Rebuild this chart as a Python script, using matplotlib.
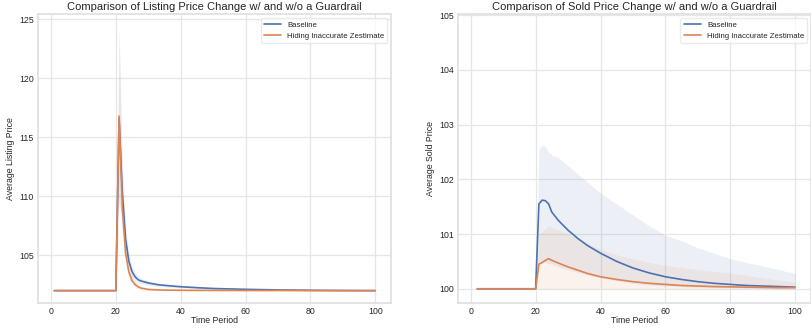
import numpy as np
import matplotlib.pyplot as plt
import seaborn as sns

sns.set_theme(style='whitegrid')
plt.rcParams['font.family'] = ['Liberation Sans', 'DejaVu Sans']

# listing price, averaged over runs (mean and 95% band)
t_list = [1, 20, 21, 22, 23, 24, 25, 26, 27, 28, 30, 33, 36, 40, 45, 50, 60, 70, 80, 90, 100]
list_base = [102.0, 102.0, 116.6, 110.3, 106.4, 104.5, 103.6, 103.15, 102.9, 102.8, 102.65, 102.5,
             102.42, 102.33, 102.25, 102.18, 102.11, 102.06, 102.03, 102.01, 102.0]
list_base_hi = [102.0, 102.0, 124.3, 113.0, 107.5, 105.2, 104.1, 103.5, 103.2, 103.05, 102.85, 102.65,
                102.55, 102.45, 102.35, 102.27, 102.18, 102.11, 102.06, 102.03, 102.01]
list_base_lo = [102.0, 102.0, 109.5, 108.0, 105.4, 103.9, 103.1, 102.8, 102.6, 102.55, 102.45, 102.35,
                102.3, 102.22, 102.16, 102.1, 102.05, 102.02, 102.0, 101.99, 101.99]
list_hide = [102.0, 102.0, 116.8, 109.0, 105.2, 103.6, 102.85, 102.5, 102.3, 102.2, 102.1, 102.06,
             102.04, 102.03, 102.02, 102.02, 102.01, 102.01, 102.0, 102.0, 102.0]
list_hide_hi = [102.0, 102.0, 123.8, 111.5, 106.2, 104.2, 103.2, 102.75, 102.5, 102.35, 102.2, 102.12,
                102.08, 102.06, 102.05, 102.04, 102.03, 102.02, 102.01, 102.01, 102.01]
list_hide_lo = [102.0, 102.0, 110.0, 106.5, 104.3, 103.0, 102.5, 102.25, 102.1, 102.05, 102.0, 102.0,
                102.0, 102.0, 101.99, 101.99, 101.99, 101.99, 101.99, 101.99, 101.99]

# sold price
t_sold = [2, 20, 21, 22, 23, 24, 25, 27, 30, 33, 36, 40, 45, 50, 55, 60, 65, 70, 75, 80, 85, 90, 95, 100]
sold_base = [100.0, 100.0, 101.55, 101.62, 101.61, 101.55, 101.4, 101.25, 101.07, 100.92, 100.79, 100.65,
             100.5, 100.38, 100.29, 100.22, 100.17, 100.13, 100.1, 100.08, 100.06, 100.05, 100.04, 100.03]
sold_base_hi = [100.0, 100.0, 102.55, 102.62, 102.6, 102.5, 102.45, 102.4, 102.25, 102.1, 101.95, 101.75,
                101.55, 101.35, 101.15, 100.98, 100.88, 100.75, 100.65, 100.55, 100.48, 100.42, 100.35, 100.28]
sold_base_lo = [100.0, 100.0, 100.5, 100.5, 100.48, 100.46, 100.45, 100.4, 100.35, 100.3, 100.25, 100.2,
                100.15, 100.1, 100.07, 100.05, 100.04, 100.03, 100.02, 100.02, 100.01, 100.01, 100.0, 100.0]
sold_hide = [100.0, 100.0, 100.45, 100.48, 100.52, 100.55, 100.52, 100.47, 100.4, 100.34, 100.28, 100.22,
             100.17, 100.13, 100.1, 100.08, 100.06, 100.05, 100.04, 100.035, 100.03, 100.025, 100.02, 100.02]
sold_hide_hi = [100.0, 100.0, 101.0, 101.05, 101.1, 101.15, 101.12, 101.08, 101.0, 100.92, 100.83, 100.72,
                100.62, 100.55, 100.48, 100.43, 100.39, 100.35, 100.32, 100.29, 100.25, 100.2, 100.16, 100.12]
sold_hide_lo = [100.0] * len(t_sold)

labels = ['Baseline', 'Hiding Inaccurate Zestimate']
titles = ['Comparison of Listing Price Change w/ and w/o a Guardrail',
          'Comparison of Sold Price Change w/ and w/o a Guardrail']
ylabels = ['Average Listing Price', 'Average Sold Price']
blue, orange = sns.color_palette('deep')[:2]

fig = plt.figure(figsize=(8.12, 3.29), dpi=100)
ax1 = fig.add_axes([0.047, 0.079, 0.435, 0.878])
ax2 = fig.add_axes([0.564, 0.079, 0.435, 0.878])

panels = [
    (ax1, t_list, [(list_base, list_base_lo, list_base_hi), (list_hide, list_hide_lo, list_hide_hi)]),
    (ax2, t_sold, [(sold_base, sold_base_lo, sold_base_hi), (sold_hide, sold_hide_lo, sold_hide_hi)]),
]
for i, (ax, t, series) in enumerate(panels):
    for (m, lo, hi), c, lab in zip(series, [blue, orange], labels):
        ax.fill_between(t, lo, hi, color=c, alpha=0.1, linewidth=0)
        ax.plot(t, m, color=c, linewidth=1.2, label=lab)
    ax.set_xlim(-3.95, 104.95)
    ax.set_title(titles[i], fontsize=8, pad=3)
    ax.set_xlabel('Time Period', fontsize=6.3, labelpad=0)
    ax.set_ylabel(ylabels[i], fontsize=6.3, labelpad=3)
    ax.tick_params(labelsize=6.3, pad=3, length=0)
    ax.grid(color='#e6e6e6', linewidth=0.9)
    leg = ax.legend(loc='upper right', fontsize=5.6, frameon=True, handlelength=2.2)
    leg.get_frame().set_edgecolor('#e6e6e6')
    for s in ax.spines.values():
        s.set_color('#e0e0e0')

ax1.set_ylim(100.95, 125.45)
ax1.set_yticks([105, 110, 115, 120, 125])
ax2.set_ylim(99.74, 105.02)
ax2.set_yticks([100, 101, 102, 103, 104, 105])
for ax in (ax1, ax2):
    ax.set_xticks([0, 20, 40, 60, 80, 100])

fig.savefig('out.png', dpi=100)
